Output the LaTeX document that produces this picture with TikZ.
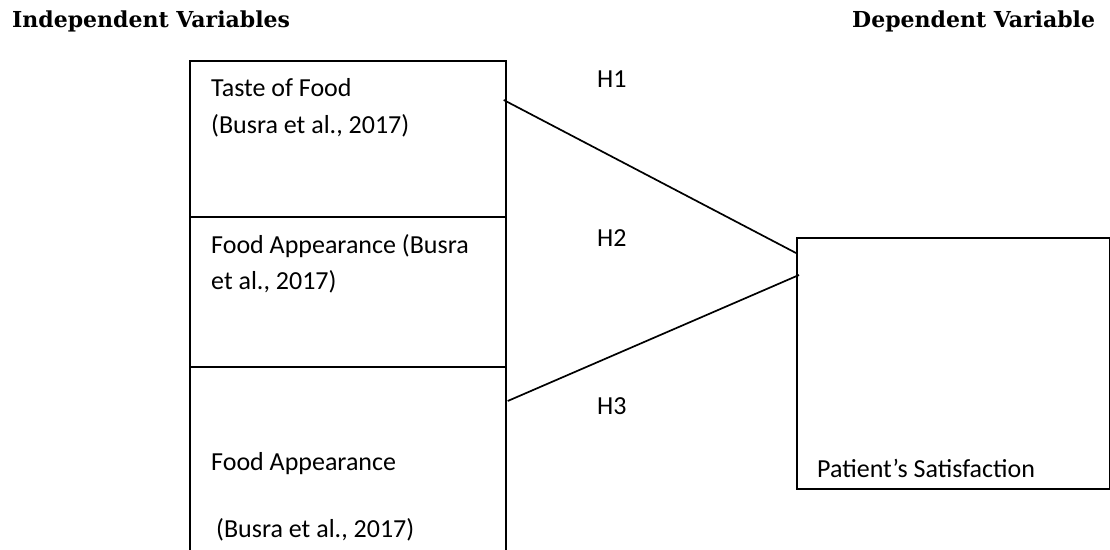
\documentclass[tikz,border=0pt]{standalone}
\usepackage{fontspec}
\setmainfont{Carlito}
\newfontfamily\headfont{DejaVu Serif}
\usetikzlibrary{calc}
\begin{document}
\begin{tikzpicture}[x=1pt,y=-1pt,
  box/.style={draw,line width=1.7pt,rectangle,inner sep=0pt},
  txt/.style={anchor=base west,inner sep=0pt,font=\fontsize{26}{32}\selectfont},
  head/.style={anchor=base west,inner sep=0pt,font=\headfont\bfseries\fontsize{22}{26}\selectfont},
  link/.style={line width=1.7pt}]
\useasboundingbox (0,0) rectangle (1110,549);
\clip (0,0) rectangle (1110,549);

% headings
\node[head] (hiv) at (12,27) {Independent Variables};
\node[head] (hdv) at (852,27) {Dependent Variable};

% stacked boxes of the independent variables
\node[box,minimum width=316pt,minimum height=156pt,anchor=north west] (taste) at (189,60) {};
\node[box,minimum width=316pt,minimum height=150pt,anchor=north west] (look) at (189,216) {};
\node[box,minimum width=316pt,minimum height=196pt,anchor=north west] (look2) at (189,366) {};

% dependent variable
\node[box,minimum width=313pt,minimum height=251pt,anchor=north west] (sat) at (796,237) {};

% box texts
\node[txt] (t1a) at (211,96) {Taste of Food};
\node[txt] (t1b) at (211,133) {(Busra et al., 2017)};
\node[txt] (t2a) at (211,253) {Food Appearance (Busra};
\node[txt] (t2b) at (211,289) {et al., 2017)};
\node[txt] (t3a) at (211,470) {Food Appearance};
\node[txt] (t3b) at (216,537) {(Busra et al., 2017)};
\node[txt] (t4) at (817,477) {Patient’s Satisfaction};

% hypothesis labels
\node[txt] (h1) at (597,87) {H1};
\node[txt] (h2) at (597,246) {H2};
\node[txt] (h3) at (597,414) {H3};

% connectors
\draw[link] ($(taste.north east)+(-3,40)$) -- ($(sat.north west)+(0,16)$);
\draw[link] ($(look2.north east)+(1,35)$) -- ($(sat.north west)+(3,38)$);
\end{tikzpicture}
\end{document}
